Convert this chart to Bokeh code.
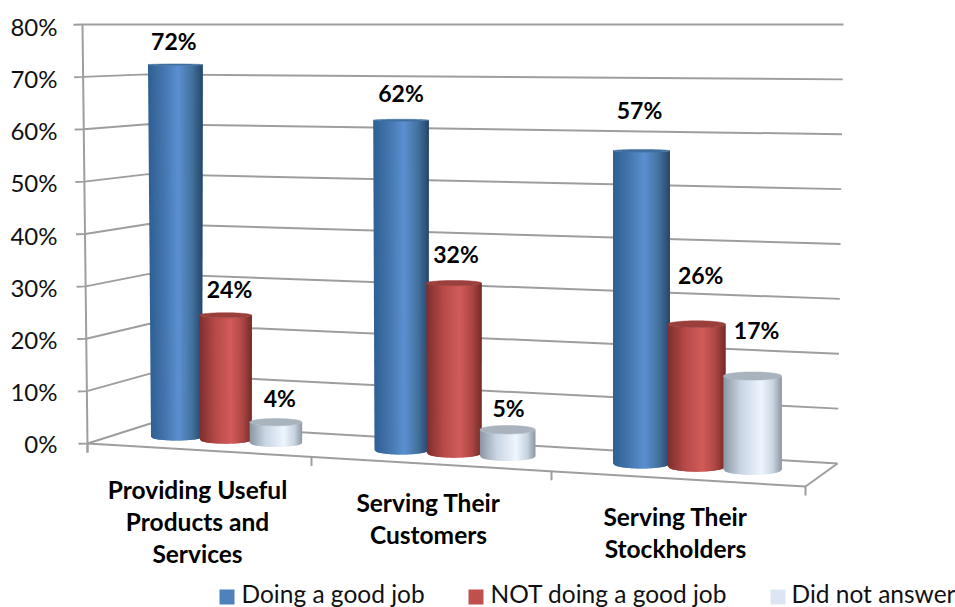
import numpy as np
from bokeh.core.properties import value
from bokeh.embed import file_html
from bokeh.models import FixedTicker, PrintfTickFormatter, Range1d
from bokeh.plotting import figure
from bokeh.resources import INLINE

# Survey results, percent of respondents
categories = ["Providing Useful\nProducts and\nServices", "Serving Their\nCustomers", "Serving Their\nStockholders"]
series_names = ["Doing a good job", "NOT doing a good job", "Did not answer"]
doing_good_job = [72, 62, 57]
not_doing_good_job = [24, 32, 26]
did_not_answer = [4, 5, 17]
y_ticks = [0, 10, 20, 30, 40, 50, 60, 70, 80]

FONT = "Lato"
W, H = 955, 607
LEFT = 63
PX_PER_PCT = 5.2125
ZERO_PX = 443

# Colour ramps across a cylinder (position, hex), plus cap and legend colours
RAMPS = [
    [(0, "#2f5f93"), (0.3, "#4677b0"), (0.55, "#5b90d2"), (0.8, "#44729f"), (1, "#27466c")],
    [(0, "#7d2f2d"), (0.3, "#b64a48"), (0.6, "#d25c5a"), (0.82, "#ad4745"), (1, "#752b29")],
    [(0, "#8b96a3"), (0.3, "#c9d5e3"), (0.65, "#eef5ff"), (0.85, "#c9d4e1"), (1, "#8c97a3")],
]
CAPS = ["#3f6e9f", "#9b3f3d", "#a9b3be"]
SWATCHES = ["#4f81bd", "#c0504d", "#dce6f2"]
GRID = "#9e9e9e"

# Label offsets from the top of each cylinder, per series then category
LABEL_DX = [[-1.5, 0, -2], [4, 2, 4], [4, 1, 4]]
LABEL_DY = [[23, 26, 39], [24, 26, 46], [21, 17, 42]]
CATEGORY_X = [197, 428, 675]
CATEGORY_Y = [490, 503, 517]
LEGEND_SWATCH_X = [219, 468, 770]
LEGEND_TEXT_X = [241, 490, 791]


def ay(py):
    """Screen row to the percent units of the value axis."""
    return (ZERO_PX - np.asarray(py, dtype=float)) / PX_PER_PCT


def ramp(stops, t):
    pos = [s[0] for s in stops]
    rgb = [[int(s[1][i:i + 2], 16) for i in (1, 3, 5)] for s in stops]
    return "#%02x%02x%02x" % tuple(int(round(np.interp(t, pos, [c[k] for c in rgb]))) for k in range(3))


def wall(v):
    """Front-left, back-left and back-right corners of the chart box at value v."""
    f = v / 80
    return (
        (87 - 5 * f, 443 - 419 * f),
        (150 - 4 * f, 423 - 399 * f),
        (837 + 6 * f, 463 - 439 * f),
    )


p = figure(
    width=W, height=H, min_border=0, min_border_left=LEFT,
    x_range=Range1d(LEFT, W), y_range=Range1d(float(ay(H)), float(ay(0))),
    output_backend="svg", toolbar_location=None,
)
p.outline_line_color = None
p.grid.visible = False
p.xaxis.visible = False
p.yaxis.ticker = FixedTicker(ticks=list(y_ticks))
p.yaxis.formatter = PrintfTickFormatter(format="%d%%")
p.yaxis.axis_line_color = None
p.yaxis.major_tick_line_color = None
p.yaxis.minor_tick_line_color = None
p.yaxis.major_tick_in = 0
p.yaxis.major_tick_out = 0
p.yaxis.major_label_standoff = 6
p.yaxis.major_label_text_font = FONT
p.yaxis.major_label_text_font_size = "24px"
p.yaxis.major_label_text_color = "#111111"

# Chart box: gridlines on both walls, tick stubs and the floor
for t in y_ticks:
    a, b, c = wall(t)
    p.line([a[0] - 9, a[0], b[0], c[0]], ay([a[1] + 0.3, a[1], b[1], c[1]]), line_color=GRID, line_width=2)
bottom, top = wall(0)[0], wall(80)[0]
p.line([top[0], bottom[0], bottom[0]], ay([top[1], bottom[1], bottom[1] + 9]), line_color=GRID, line_width=2)
front_right = (805, 486)
p.line([bottom[0], front_right[0], wall(0)[2][0]], ay([bottom[1], front_right[1], wall(0)[2][1]]), line_color=GRID, line_width=2)
for cx in (87, 311, 551, 805):
    fy = np.interp(cx, [bottom[0], front_right[0]], [bottom[1], front_right[1]])
    p.line([cx, cx], ay([fy, fy + 9]), line_color=GRID, line_width=2)

values = [doing_good_job, not_doing_good_job, did_not_answer]
n_cat = len(categories)
tops = {}
STRIPS = 44
for g in range(n_cat):
    for s in range(len(values)):
        v = values[s][g]
        u = g + 0.225 * s
        # Perspective: columns nearer the front right sit wider, lower and taller per percent
        cx = 176 + 217.5 * u + 7.5 * u * u - 4 * max(0.0, u - 2)
        half = (51 + 3 * u) / 2
        scale = 5.17 + 0.05 * u + 0.03 * u * u + 0.0012 * v * np.sqrt(u)
        e_b = 3.5 + 0.7 * u
        e_t = max(0.8, e_b * (1 - v / 80))
        cy_b = 440 + 14 * u - e_b
        cy_t = cy_b - scale * v
        lean = v * max(0.0, 1 - u / 2)
        lb, rb = cx - half, cx + half
        lt, rt = lb - 0.042 * lean, rb + 0.01 * lean

        tx = np.linspace(0, 1, STRIPS + 1)
        arc = np.sqrt(np.clip(1 - (2 * tx - 1) ** 2, 0, 1))
        xs, ys, colors = [], [], []
        for i in range(STRIPS):
            # Each strip runs on under the next one, so no seams show through
            j = [i, min(i + 2, STRIPS)]
            xb = [lb + (rb - lb) * tx[k] for k in j]
            xt = [lt + (rt - lt) * tx[k] for k in j]
            yb = [cy_b + e_b * arc[k] for k in j]
            yt = [cy_t + e_t * arc[k] for k in j]
            xs.append([xt[0], xt[1], xb[1], xb[0]])
            ys.append(list(ay([yt[0], yt[1], yb[1], yb[0]])))
            colors.append(ramp(RAMPS[s], (i + 0.5) / STRIPS))
        p.patches(xs, ys, fill_color=colors, line_color=None)

        # Elliptical cap
        ang = np.linspace(0, 2 * np.pi, 61)
        cap_x = (lt + rt) / 2 + (rt - lt) / 2 * np.cos(ang)
        cap_y = cy_t + e_t * np.sin(ang)
        p.patch(cap_x, ay(cap_y), fill_color=CAPS[s], line_color=CAPS[s], line_width=0.5)
        tops[(g, s)] = ((lt + rt) / 2, cy_t - e_t)

# Value labels above the cylinders
for g in range(n_cat):
    for s in range(len(values)):
        x0, y0 = tops[(g, s)]
        p.text([x0 + LABEL_DX[s][g]], [float(ay(y0 - LABEL_DY[s][g]))], text=[f"{values[s][g]}%"],
               text_font=value(FONT), text_font_style="bold", text_font_size="23px",
               text_color="#000000", text_align="center", text_baseline="middle")

# Category names under the floor, one row per line
for g, name in enumerate(categories):
    for r, line in enumerate(name.split("\n")):
        p.text([CATEGORY_X[g]], [float(ay(CATEGORY_Y[g] - 1 + 32 * r))], text=[line],
               text_font=value(FONT), text_font_style="bold", text_font_size="24.5px",
               text_color="#000000", text_align="center", text_baseline="middle")

# Legend row along the bottom edge
for s, name in enumerate(series_names):
    sx = LEGEND_SWATCH_X[s]
    p.quad(left=[sx], right=[sx + 15], top=[float(ay(589))], bottom=[float(ay(604))],
           fill_color=SWATCHES[s], line_color=None)
    p.text([LEGEND_TEXT_X[s]], [float(ay(593))], text=[name],
           text_font=value(FONT), text_font_size="24.5px", text_color="#111111",
           text_align="left", text_baseline="middle")

open("out.html", "w").write(file_html(p, INLINE))
